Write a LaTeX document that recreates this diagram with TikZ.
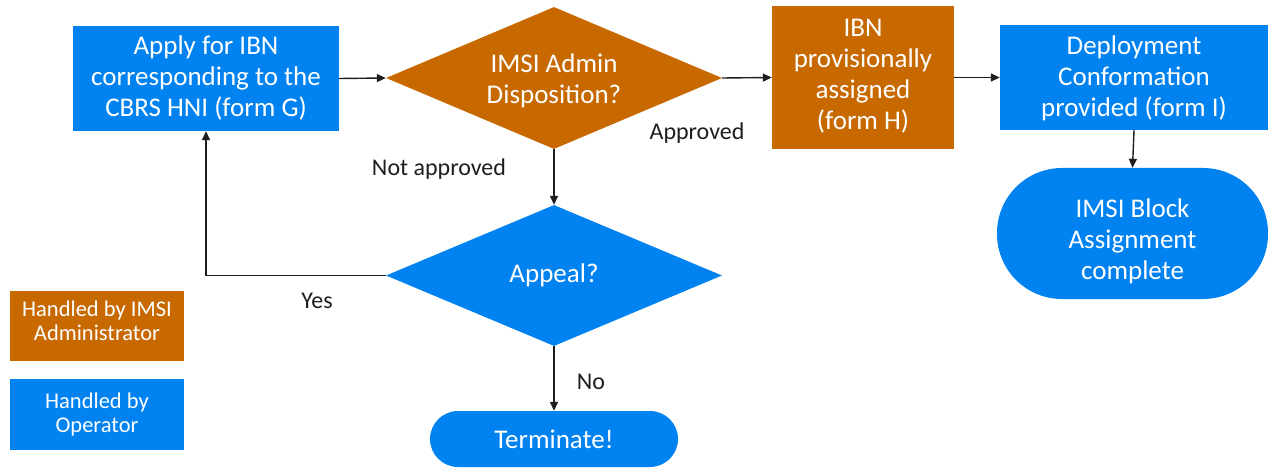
\documentclass[tikz,border=0pt]{standalone}
\usepackage{fontspec}
\setmainfont{Carlito}
\usetikzlibrary{shapes.geometric,arrows.meta}
\definecolor{opblue}{RGB}{0,130,240}
\definecolor{adminorange}{RGB}{200,105,0}
\definecolor{inkgray}{RGB}{30,30,30}
% multi-line text block shifted vertically inside its shape
\newcommand{\shiftedlines}[2]{\raisebox{#1}[\height][\depth]{\begin{tabular}{@{}c@{}}#2\end{tabular}}}
\begin{document}
\begin{tikzpicture}[x=1pt,y=-1pt,
  base/.style={text=white,inner sep=0pt,align=center,
    font=\fontsize{27}{31}\selectfont},
  opbox/.style={base,rectangle,fill=opblue},
  adminbox/.style={base,rectangle,fill=adminorange},
  decision/.style={base,diamond,aspect=2.37},
  terminal/.style={base,rectangle,fill=opblue},
  legendbox/.style={rectangle,text=white,inner sep=0pt,align=center,
    minimum width=174pt,font=\fontsize{22.5}{24}\selectfont},
  lbl/.style={text=inkgray,inner sep=0pt,font=\fontsize{24}{28}\selectfont},
  arr/.style={draw=inkgray,line width=1.4pt,-{Triangle[length=9pt,width=8pt]}}
]
\useasboundingbox (0,0) rectangle (1268,470);

% process steps
\node[opbox,minimum width=266pt,minimum height=105pt] (apply) at (206,78.5)
  {Apply for IBN\\corresponding to the\\CBRS HNI (form G)};
\node[decision,fill=adminorange,minimum width=336pt,minimum height=142pt] (dispo) at (554,78)
  {\shiftedlines{-4pt}{IMSI Admin\\Disposition?}};
\node[adminbox,minimum width=182pt,minimum height=143pt] (prov) at (863,77.5)
  {\shiftedlines{1pt}{IBN\\provisionally\\assigned\\(form H)}};
\node[opbox,minimum width=268pt,minimum height=105pt] (deploy) at (1134,77.5)
  {\shiftedlines{-2pt}{Deployment\\Conformation\\provided (form I)}};
\node[terminal,minimum width=271pt,minimum height=131pt,rounded corners=65pt] (done) at (1132.5,233.5)
  {\shiftedlines{-9pt}{IMSI Block\\Assignment\\complete}};
\node[decision,fill=opblue,minimum width=336pt,minimum height=141pt] (appeal) at (554,275.5)
  {Appeal?};
\node[terminal,minimum width=248pt,minimum height=56pt,rounded corners=28pt] (term) at (554,439)
  {Terminate!};

% legend
\node[legendbox,fill=adminorange,minimum height=70pt] (legadmin) at (97,326)
  {\shiftedlines{2pt}{Handled by IMSI\\Administrator}};
\node[legendbox,fill=opblue,minimum height=71pt] (legop) at (97,414.5)
  {Handled by\\Operator};

% connectors
\draw[arr] (apply.east) -- (dispo.west);
\draw[arr] (dispo.east) -- (prov.west);
\draw[arr] (prov.east) -- (deploy.west);
\draw[arr] (deploy.south) -- (done.north);
\draw[arr] (dispo.south) -- (appeal.north);
\draw[arr] (appeal.west) -| (apply.south);
\draw[arr] (appeal.south) -- (term.north);

% branch labels
\node[lbl] (approved) at (697,133) {Approved};
\node[lbl] (notappr) at (439,169) {Not approved};
\node[lbl] (yes) at (317,301) {Yes};
\node[lbl] (no) at (591,382) {No};
\end{tikzpicture}
\end{document}
